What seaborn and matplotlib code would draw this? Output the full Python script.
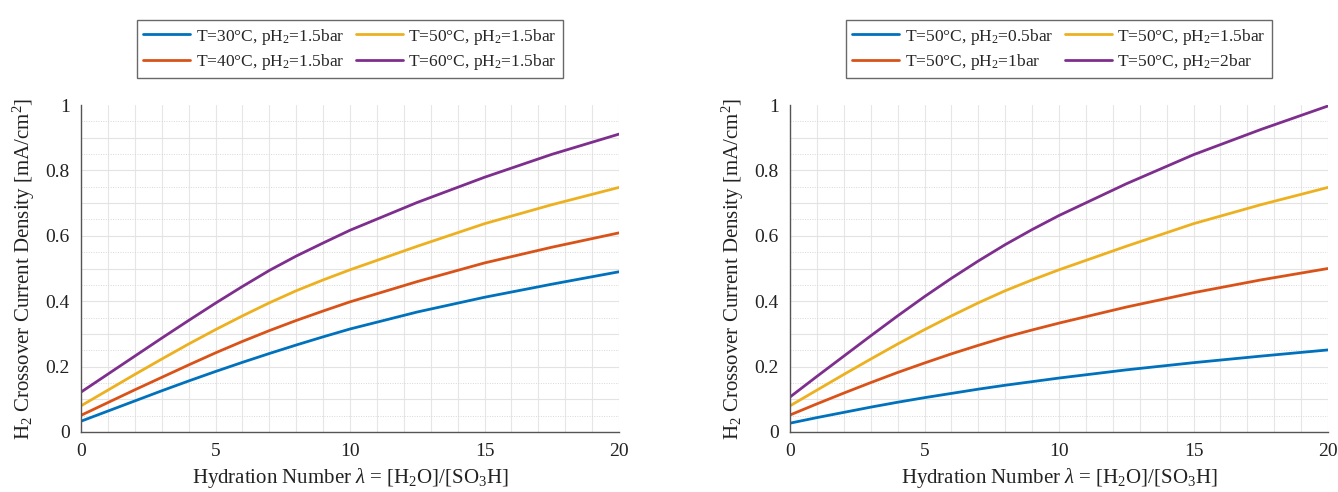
import numpy as np
import pandas as pd
import matplotlib
matplotlib.use("Agg")
import matplotlib.pyplot as plt
from matplotlib.ticker import FuncFormatter
import seaborn as sns

# ---- data ----
x_vals = [0, 1, 2, 3, 4, 5, 6, 7, 8, 9, 10, 12.5, 15, 17.5, 20]

left_labels = ["T=30°C, pH$_2$=1.5bar", "T=40°C, pH$_2$=1.5bar",
               "T=50°C, pH$_2$=1.5bar", "T=60°C, pH$_2$=1.5bar"]
left_t30 = [0.033, 0.064, 0.095, 0.126, 0.156, 0.185, 0.213, 0.240, 0.266,
            0.291, 0.315, 0.367, 0.412, 0.452, 0.490]
left_t40 = [0.051, 0.090, 0.129, 0.167, 0.205, 0.242, 0.277, 0.310, 0.341,
            0.370, 0.398, 0.460, 0.517, 0.565, 0.609]
left_t50 = [0.080, 0.128, 0.176, 0.223, 0.269, 0.313, 0.355, 0.395, 0.432,
            0.465, 0.496, 0.568, 0.637, 0.695, 0.748]
left_t60 = [0.122, 0.177, 0.232, 0.287, 0.341, 0.394, 0.445, 0.494, 0.538,
            0.578, 0.617, 0.702, 0.779, 0.849, 0.911]

right_labels = ["T=50°C, pH$_2$=0.5bar", "T=50°C, pH$_2$=1bar",
                "T=50°C, pH$_2$=1.5bar", "T=50°C, pH$_2$=2bar"]
right_p05 = [0.027, 0.044, 0.060, 0.076, 0.091, 0.105, 0.118, 0.131, 0.143,
             0.154, 0.165, 0.190, 0.212, 0.232, 0.251]
right_p10 = [0.052, 0.086, 0.119, 0.151, 0.182, 0.211, 0.239, 0.265, 0.290,
             0.312, 0.333, 0.382, 0.426, 0.465, 0.500]
right_p15 = [0.080, 0.128, 0.176, 0.223, 0.269, 0.313, 0.355, 0.395, 0.432,
             0.465, 0.496, 0.568, 0.637, 0.695, 0.748]
right_p20 = [0.107, 0.170, 0.232, 0.294, 0.355, 0.414, 0.470, 0.523, 0.573,
             0.619, 0.662, 0.759, 0.848, 0.925, 0.997]

colors = ["#0072BD", "#D95319", "#EDB120", "#7E2F8E"]

x_ticks = [0, 5, 10, 15, 20]
y_ticks = [0, 0.2, 0.4, 0.6, 0.8, 1.0]

sns.set_style("white")
plt.rcParams["font.family"] = ["Liberation Serif", "DejaVu Serif"]
plt.rcParams["mathtext.fontset"] = "custom"
plt.rcParams["mathtext.rm"] = "Liberation Serif"
plt.rcParams["mathtext.it"] = "Liberation Serif:italic"
plt.rcParams["mathtext.default"] = "regular"


def make_df(labels, series):
    rows = []
    for lab, ys in zip(labels, series):
        for xv, yv in zip(x_vals, ys):
            rows.append({"x": xv, "y": yv, "series": lab})
    return pd.DataFrame(rows)


fig = plt.figure(figsize=(13.38, 4.92), dpi=100)
W, H = 1338, 492
ax_l = fig.add_axes([81 / W, (H - 432) / H, 538 / W, 327 / H])
ax_r = fig.add_axes([790 / W, (H - 432) / H, 538 / W, 327 / H])

panels = [
    (ax_l, left_labels, [left_t30, left_t40, left_t50, left_t60]),
    (ax_r, right_labels, [right_p05, right_p10, right_p15, right_p20]),
]

for ax, labels, series in panels:
    df = make_df(labels, series)
    sns.lineplot(data=df, x="x", y="y", hue="series", hue_order=labels,
                 palette=colors, linewidth=2.0, ax=ax, legend=True)
    for ln in ax.get_lines():
        ln.set_solid_joinstyle("round")
    ax.set_xlim(0, 20)
    ax.set_ylim(0, 1)
    ax.set_xticks(x_ticks)
    ax.set_yticks(y_ticks)
    ax.yaxis.set_major_formatter(FuncFormatter(lambda v, p: "%g" % v))
    # grid
    for xv in range(1, 21):
        ax.axvline(xv, color="#e6e6e6", lw=0.8, zorder=0)
    for k in range(1, 20):
        yv = k * 0.05
        if k % 2 == 0:
            ax.axhline(yv, color="#e3e3e3", lw=0.8, zorder=0)
        else:
            ax.axhline(yv, color="#d8d8d8", lw=0.7, ls=(0, (1, 1.5)), zorder=0)
    ax.tick_params(axis="both", which="major", direction="in", length=5,
                   width=0.8, color="#555555", labelsize=14, labelcolor="#222222", pad=8)
    ax.tick_params(axis="both", which="minor", length=0)
    for s in ["top", "right"]:
        ax.spines[s].set_visible(False)
    for s in ["left", "bottom"]:
        ax.spines[s].set_color("#555555")
        ax.spines[s].set_linewidth(1.0)
    ax.set_xlabel("Hydration Number $\\mathit{\\lambda}$ = [H$_2$O]/[SO$_3$H]",
                  fontsize=15, color="#222222", labelpad=4)
    ax.set_ylabel("H$_2$ Crossover Current Density [mA/cm$^2$]",
                  fontsize=15, color="#222222", labelpad=6)
    handles, labs = ax.get_legend_handles_labels()
    ax.legend(handles, labs, ncol=2, loc="lower center",
              bbox_to_anchor=(0.5, 1.083), fontsize=12.5, frameon=True,
              fancybox=False, edgecolor="#444444", columnspacing=0.7,
              handlelength=2.7, handletextpad=0.3, borderpad=0.35,
              borderaxespad=0.0, labelspacing=0.3)
    ax.get_legend().get_frame().set_linewidth(1.0)

fig.savefig("out.png", dpi=100)
